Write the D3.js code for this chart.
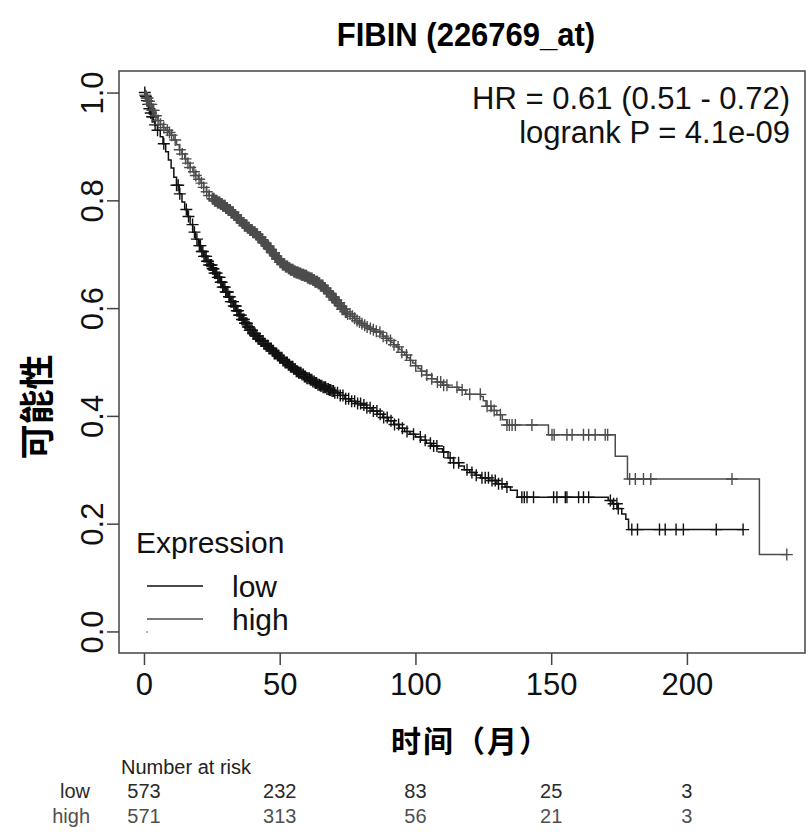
<!DOCTYPE html>
<html>
<head>
<meta charset="utf-8">
<script src="https://cdn.jsdelivr.net/npm/d3@7/dist/d3.min.js"></script>
<style>
  body { margin: 0; background: #fff; }
  text { font-family: "Liberation Sans", Arial, Helvetica, sans-serif; }
  .cjk { font-family: "Noto Sans CJK SC", sans-serif; font-weight: 700; }
</style>
</head>
<body>
<div id="wrapper"></div>
<script>
// data
const titleText = "FIBIN (226769_at)"
const timeTicks = [0, 50, 100, 150, 200]
const probTicks = [0, 0.2, 0.4, 0.6, 0.8, 1.0]
const groupNames = ["low", "high"]
const statLines = ["HR = 0.61 (0.51 - 0.72)", "logrank P = 4.1e-09"]

// KM steps [time, survival] for each group
const lowSteps = [[0,1.0],[0.5,0.993],[1,0.985],[1.5,0.978],[2,0.97],[2.5,0.962],[3,0.955],[3.5,0.947],[4,0.94],[5,0.93],[6,0.918],[7,0.905],[8,0.89],[9,0.875],[10,0.86],[11,0.843],[12,0.828],[13,0.812],[14,0.797],[15,0.783],[16,0.77],[17,0.755],[18,0.741],[19,0.728],[20,0.716],[21,0.705],[22,0.696],[23,0.687],[24,0.68],[25,0.673],[26,0.665],[27,0.657],[28,0.648],[29,0.639],[30,0.63],[31,0.621],[32,0.612],[33,0.604],[34,0.595],[35,0.587],[36,0.579],[37,0.572],[38,0.565],[39,0.559],[40,0.553],[41,0.548],[42,0.543],[43,0.539],[44,0.534],[45,0.53],[46,0.525],[47,0.521],[48,0.516],[49,0.512],[50,0.508],[51,0.503],[52,0.499],[53,0.495],[54,0.491],[55,0.487],[56,0.483],[57,0.48],[58,0.477],[59,0.473],[60,0.47],[61,0.467],[62,0.464],[63,0.461],[64,0.458],[65,0.456],[66,0.453],[67,0.45],[68,0.448],[69,0.446],[70,0.443],[72,0.438],[74,0.432],[76,0.427],[78,0.423],[80,0.42],[82,0.415],[84,0.409],[86,0.403],[88,0.397],[90,0.391],[92,0.384],[94,0.377],[96,0.371],[98,0.366],[100,0.361],[102,0.355],[104,0.349],[106,0.344],[108,0.339],[110,0.333],[112,0.322],[114,0.313],[116,0.307],[118,0.3],[120,0.295],[122,0.29],[124,0.285],[127,0.28],[130,0.274],[133,0.268],[135,0.262],[137.5,0.249],[171,0.243],[172.5,0.237],[174.5,0.228],[176,0.218],[177.5,0.208],[178.5,0.189]]
const highSteps = [[0,1.0],[0.5,0.995],[1,0.99],[1.5,0.984],[2,0.978],[3,0.967],[4,0.957],[5,0.948],[6,0.941],[7,0.935],[8,0.93],[9,0.926],[10,0.921],[11,0.912],[12,0.903],[13,0.894],[14,0.886],[15,0.877],[16,0.869],[17,0.861],[18,0.853],[19,0.846],[20,0.839],[21,0.832],[22,0.824],[23,0.816],[24,0.809],[25,0.803],[26,0.799],[27,0.796],[28,0.793],[29,0.79],[30,0.786],[31,0.782],[32,0.778],[33,0.773],[34,0.768],[35,0.763],[36,0.758],[37,0.753],[38,0.749],[39,0.745],[40,0.741],[41,0.737],[42,0.732],[43,0.727],[44,0.721],[45,0.715],[46,0.709],[47,0.703],[48,0.697],[49,0.691],[50,0.685],[51,0.681],[52,0.677],[53,0.674],[54,0.671],[55,0.668],[56,0.666],[57,0.664],[58,0.662],[59,0.66],[60,0.657],[61,0.655],[62,0.652],[63,0.649],[64,0.646],[65,0.642],[66,0.637],[67,0.632],[68,0.627],[69,0.621],[70,0.615],[71,0.61],[72,0.604],[73,0.598],[74,0.593],[75,0.589],[76,0.585],[77,0.581],[78,0.577],[79,0.574],[80,0.571],[81,0.568],[82,0.565],[83,0.562],[84,0.56],[85,0.557],[86,0.555],[87,0.552],[88,0.548],[89,0.544],[90,0.54],[91,0.536],[92,0.532],[93,0.528],[94,0.523],[95,0.518],[96,0.513],[97,0.508],[98,0.503],[99,0.498],[100,0.493],[101,0.488],[102,0.483],[104,0.476],[106,0.469],[108,0.463],[110,0.457],[112,0.453],[116,0.448],[118.5,0.44],[124,0.436],[125,0.428],[126,0.418],[128,0.41],[130,0.402],[132,0.393],[133.7,0.383],[149,0.365],[173.6,0.325],[178.1,0.283],[226.7,0.1426]]

// censoring times (the + marks)
const lowCensor = [0.3,0.7,1.1,1.6,2.0,2.5,3.0,3.4,4.1,5.0,7.3,12.0,12.6,13.2,15.6,16.4,17.9,18.6,19.5,20.4,20.8,21.3,21.7,22.1,22.5,22.9,23.2,23.6,24.0,24.5,24.9,25.3,25.6,26.0,26.4,26.8,27.2,27.6,27.9,28.3,28.6,29.0,29.4,29.8,30.1,30.5,30.9,31.3,31.6,32.0,32.4,32.8,33.1,33.5,33.8,34.2,34.6,35.0,35.3,35.7,36.1,36.5,36.8,37.2,37.5,37.9,38.3,38.7,39.0,39.4,39.8,40.2,40.5,40.9,41.2,41.6,42.0,42.4,42.7,43.1,43.5,43.9,44.2,44.6,45.0,45.4,45.7,46.1,46.5,46.9,47.3,47.7,48.0,48.4,48.8,49.2,49.6,50.0,50.4,50.8,51.2,51.6,52.0,52.4,52.8,53.2,53.6,54.0,54.4,54.8,55.2,55.7,56.1,56.5,57.0,57.4,57.8,58.2,58.7,59.1,59.5,60.0,60.4,60.9,61.3,61.8,62.2,62.7,63.1,63.6,64.1,64.6,65.0,65.5,66.0,66.4,66.9,67.4,67.9,68.3,68.8,69.3,69.8,70.3,71.3,72.3,73.3,74.3,75.4,76.5,77.6,78.7,79.8,81.0,82.1,83.3,84.5,85.8,87.0,88.3,89.6,91.0,92.3,93.8,95.2,96.9,99.3,101.8,103.6,105.5,106.7,107.9,110.4,112.8,114.1,115.9,119.0,120.8,122.4,124.5,125.7,126.9,128.2,129.4,130.6,131.9,133.7,139.2,140.1,141.1,143.5,150.9,152.1,155.2,155.8,160.1,161.9,163.8,171.8,173.0,174.2,174.7,179.7,181.8,189.9,192.0,196.0,198.7,210.8,220.7]
const highCensor = [0.5,1.0,1.3,1.8,2.2,2.7,3.1,3.6,4.4,5.2,6.1,7.3,8.6,9.4,10.2,11.5,13.2,14.1,15.3,16.2,17.0,18.4,19.1,20.3,21.2,22.0,23.1,24.0,25.2,25.5,25.8,26.0,26.3,26.6,26.9,27.1,27.4,27.7,27.9,28.2,28.5,28.8,29.0,29.3,29.6,29.9,30.1,30.4,30.7,31.0,31.2,31.5,31.8,32.1,32.3,32.6,32.9,33.2,33.4,33.7,34.0,34.3,34.6,34.8,35.1,35.4,35.7,35.9,36.2,36.5,36.8,37.0,37.3,37.6,37.9,38.1,38.4,38.7,39.0,39.3,39.6,39.8,40.1,40.4,40.7,40.9,41.2,41.5,41.8,42.0,42.3,42.6,42.9,43.1,43.4,43.7,44.0,44.3,44.6,44.8,45.1,45.4,45.7,45.9,46.2,46.5,46.8,47.1,47.4,47.6,47.9,48.2,48.5,48.7,49.0,49.3,49.6,49.8,50.1,50.4,50.7,51.0,51.3,51.5,51.8,52.1,52.4,52.6,52.9,53.2,53.5,53.7,54.0,54.3,54.6,54.9,55.2,55.4,55.7,56.0,56.3,56.5,56.8,57.1,57.4,57.7,58.0,58.2,58.5,58.8,59.1,59.3,59.6,59.9,60.2,60.5,60.8,61.0,61.3,61.6,61.9,62.2,62.5,62.7,63.0,63.3,63.6,63.9,64.2,64.4,64.7,65.0,65.3,65.6,65.9,66.2,66.5,66.8,67.2,67.5,67.8,68.1,68.5,68.8,69.1,69.4,69.8,70.1,70.5,70.8,71.2,71.5,71.9,72.3,72.7,73.0,73.4,73.8,74.2,74.6,75.0,75.9,76.8,77.6,78.5,79.4,80.3,81.3,82.2,83.4,84.5,85.6,86.9,88.1,89.4,90.8,92.1,93.6,95.0,96.7,98.2,100.1,102.3,104.2,106.0,108.1,109.3,110.4,111.6,115.3,117.2,120.0,123.9,126.4,127.8,129.0,131.3,133.7,134.6,135.6,136.8,142.9,150.3,151.1,155.8,157.7,161.9,163.8,166.2,169.9,170.8,178.9,181.0,184.0,186.7,216.6,236.8]
const lastTimes = [220.7, 236.8]

// number at risk table
const riskLow = [573, 232, 83, 25, 3]
const riskHigh = [571, 313, 56, 21, 3]

function drawKM() {
  const width = 810, height = 834
  const box = { left: 119, right: 805, top: 71, bottom: 653 }
  const colors = { low: "#111111", high: "#4c4c4c" }

  const svg = d3.select("#wrapper").append("svg")
    .attr("width", width)
    .attr("height", height)

  const x = d3.scaleLinear().domain([-9.2, 243.5]).range([box.left, box.right])
  const y = d3.scaleLinear().domain([-0.04, 1.04]).range([box.bottom, box.top])

  // title
  svg.append("text")
    .attr("x", 466).attr("y", 46)
    .attr("text-anchor", "middle")
    .style("font-weight", "bold").style("font-size", "31px")
    .attr("transform", "translate(466,46) scale(1,1.08) translate(-466,-46)")
    .text(titleText)

  // axes
  const xAxis = svg.append("g")
    .attr("transform", `translate(0,${box.bottom})`)
    .call(d3.axisBottom(x).tickValues(timeTicks).tickSize(12).tickPadding(8))
  xAxis.select(".domain").remove()
  xAxis.selectAll("text").style("font-size", "31px").attr("fill", "#111")
  xAxis.selectAll("line").attr("stroke", "#444").attr("stroke-width", 1.5)

  const yAxis = svg.append("g")
    .attr("transform", `translate(${box.left},0)`)
    .call(d3.axisLeft(y).tickValues(probTicks).tickSize(12).tickFormat(d3.format(".1f")))
  yAxis.select(".domain").remove()
  yAxis.selectAll("line").attr("stroke", "#444").attr("stroke-width", 1.5)
  yAxis.selectAll("text")
    .attr("x", 0).attr("y", -16).attr("dy", 0)
    .attr("transform", "rotate(-90)")
    .style("text-anchor", "middle")
    .style("font-size", "31px").attr("fill", "#111")

  // plot box
  svg.append("rect")
    .attr("x", box.left).attr("y", box.top)
    .attr("width", box.right - box.left).attr("height", box.bottom - box.top)
    .attr("fill", "none").attr("stroke", "#444").attr("stroke-width", 1.5)

  // axis titles
  svg.append("text").attr("class", "cjk")
    .attr("x", 471).attr("y", 752)
    .attr("text-anchor", "middle").style("font-size", "30px")
    .style("letter-spacing", "2px")
    .text("时间（月）")
  svg.append("text").attr("class", "cjk")
    .attr("transform", "translate(50,407) rotate(-90)")
    .attr("text-anchor", "middle").style("font-size", "35px")
    .text("可能性")

  // curves
  const line = d3.line().x(d => x(d[0])).y(d => y(d[1])).curve(d3.curveStepAfter)
  const series = [
    { name: "low", steps: lowSteps, censor: lowCensor, end: lastTimes[0] },
    { name: "high", steps: highSteps, censor: highCensor, end: lastTimes[1] },
  ]
  const survAt = (steps, t) => {
    let s = steps[0][1]
    for (const st of steps) { if (st[0] <= t) s = st[1] }
    return s
  }
  const plot = svg.append("g")
  series.forEach(s => {
    const pts = s.steps.concat([[s.end, s.steps[s.steps.length - 1][1]]])
    plot.append("path")
      .attr("d", line(pts))
      .attr("fill", "none").attr("stroke", colors[s.name]).attr("stroke-width", 1.5)
    plot.append("g").selectAll("path")
      .data(s.censor)
      .join("path")
      .attr("d", t => {
        const cx = x(t), cy = y(survAt(s.steps, t))
        return `M${cx - 6},${cy}H${cx + 6}M${cx},${cy - 6}V${cy + 6}`
      })
      .attr("stroke", colors[s.name]).attr("stroke-width", 1.4).attr("fill", "none")
  })

  // stats text
  svg.append("g").selectAll("text")
    .data(statLines).join("text")
    .attr("x", 790).attr("y", (d, i) => 109 + i * 34)
    .attr("text-anchor", "end").style("font-size", "31px").attr("fill", "#111")
    .text(d => d)

  // legend
  const legend = svg.append("g")
  legend.append("text").attr("x", 136).attr("y", 553)
    .style("font-size", "30px").attr("fill", "#111").text("Expression")
  groupNames.forEach((g, i) => {
    const ly = 586 + i * 33
    legend.append("line")
      .attr("x1", 147).attr("x2", 203).attr("y1", ly).attr("y2", ly)
      .attr("stroke", colors[g]).attr("stroke-width", 1.3)
    legend.append("text").attr("x", 232).attr("y", ly + 11)
      .style("font-size", "30px").attr("fill", "#111").text(g)
  })
  legend.append("circle").attr("cx", 147).attr("cy", 632).attr("r", 0.8).attr("fill", "#555")

  // number at risk
  const risk = svg.append("g")
  risk.append("text").attr("x", 121).attr("y", 774)
    .style("font-size", "20px").attr("fill", "#222").text("Number at risk")
  const rows = [riskLow, riskHigh]
  rows.forEach((row, i) => {
    const ry = 798 + i * 25
    const col = i === 0 ? "#2a2a2a" : "#505050"
    risk.append("text").attr("x", 90).attr("y", ry).attr("text-anchor", "end")
      .style("font-size", "20px").attr("fill", col).text(groupNames[i])
    risk.append("g").selectAll("text").data(row).join("text")
      .attr("x", (d, j) => x(timeTicks[j])).attr("y", ry)
      .attr("text-anchor", "middle")
      .style("font-size", "20px").attr("fill", col)
      .text(d => d)
  })
}

drawKM()
</script>
</body>
</html>
